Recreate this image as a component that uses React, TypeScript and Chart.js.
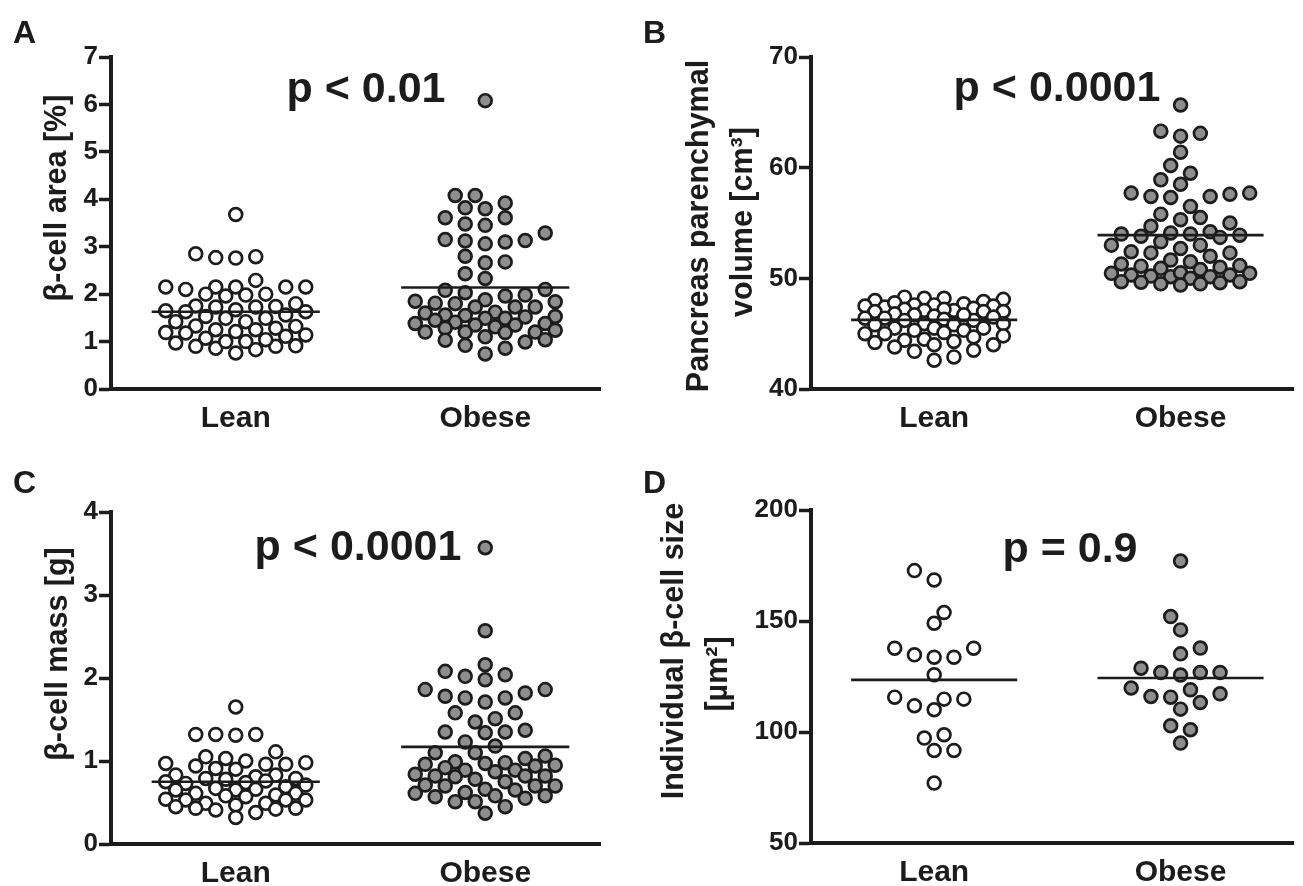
import React, { useEffect, useRef } from 'react';
import { Chart, registerables } from 'chart.js';

Chart.register(...registerables);

// ---------------- data ----------------
const categories = ['Lean', 'Obese'];

const areaLean = [3.68, 2.79, 2.76, 2.77, 2.85, 2.29, 2.15, 2.15, 2.15, 2.10, 2.15, 2.15, 2.00, 1.98, 1.96, 2.00, 1.80, 1.75, 1.74, 1.73, 1.73, 1.65, 1.63, 1.63, 1.67, 1.53, 1.49, 1.56, 1.49, 1.42, 1.42, 1.33, 1.32, 1.28, 1.25, 1.21, 1.25, 1.19, 1.14, 1.07, 1.18, 1.11, 0.97, 0.90, 0.86, 1.00, 1.00, 1.04, 0.90, 0.91, 0.76, 0.83];
const areaObese = [6.08, 4.08, 4.08, 3.92, 3.80, 3.82, 3.61, 3.61, 3.45, 3.48, 3.13, 3.10, 3.29, 3.06, 3.12, 3.15, 2.68, 2.80, 2.66, 2.43, 2.33, 2.10, 2.03, 1.96, 1.88, 1.98, 2.08, 1.85, 1.81, 1.73, 1.73, 1.73, 1.80, 1.84, 1.62, 1.56, 1.53, 1.49, 1.55, 1.60, 1.49, 1.52, 1.45, 1.38, 1.35, 1.31, 1.38, 1.41, 1.35, 1.28, 1.20, 1.19, 1.20, 1.24, 1.10, 1.03, 1.20, 0.99, 1.04, 0.92, 0.86, 0.74];
const areaMeans = [1.63, 2.14];
const areaTicks = [0, 1, 2, 3, 4, 5, 6, 7];

const volLean = [48.3, 48.2, 48.2, 48.1, 48.0, 47.9, 47.7, 47.6, 47.6, 47.5, 47.5, 47.4, 47.8, 47.3, 47.2, 47.1, 47.1, 47.0, 47.0, 47.0, 47.2, 46.8, 46.7, 46.6, 46.5, 46.4, 46.4, 46.3, 46.2, 46.2, 46.7, 45.9, 45.9, 45.8, 45.8, 45.5, 45.5, 45.5, 45.3, 45.3, 45.1, 45.0, 45.0, 44.8, 44.7, 44.5, 44.4, 44.3, 44.2, 44.0, 44.0, 43.8, 43.5, 43.4, 42.9, 42.6];
const volObese = [65.66, 63.1, 63.3, 62.85, 61.4, 60.2, 59.5, 58.9, 58.5, 57.7, 57.4, 57.3, 57.4, 57.6, 57.7, 56.5, 55.5, 55.3, 55.8, 55.0, 54.7, 54.2, 54.1, 54.0, 53.8, 53.3, 53.7, 53.9, 54.0, 53.0, 53.0, 52.7, 52.4, 52.3, 52.0, 52.3, 51.65, 51.5, 51.3, 51.1, 50.9, 50.8, 51.0, 51.15, 50.45, 50.3, 50.2, 50.15, 50.5, 50.3, 50.0, 50.15, 50.45, 49.7, 49.65, 49.5, 49.4, 49.5, 49.6, 49.7];
const volMeans = [46.25, 53.9];
const volTicks = [40, 50, 60, 70];

const massLean = [1.65, 1.32, 1.31, 1.32, 1.32, 1.11, 1.05, 1.03, 1.00, 0.96, 0.98, 0.97, 0.96, 0.94, 0.91, 0.90, 0.81, 0.83, 0.83, 0.79, 0.79, 0.78, 0.76, 0.74, 0.73, 0.75, 0.71, 0.69, 0.67, 0.65, 0.66, 0.65, 0.61, 0.61, 0.59, 0.58, 0.57, 0.54, 0.53, 0.53, 0.53, 0.49, 0.49, 0.45, 0.43, 0.41, 0.47, 0.42, 0.43, 0.38, 0.32];
const massObese = [3.57, 2.57, 2.16, 2.04, 1.98, 2.02, 2.08, 1.86, 1.78, 1.76, 1.71, 1.76, 1.82, 1.86, 1.58, 1.47, 1.51, 1.58, 1.37, 1.34, 1.35, 1.35, 1.23, 1.18, 1.10, 1.03, 0.99, 0.97, 0.98, 1.06, 1.10, 0.96, 0.94, 0.89, 0.87, 0.89, 0.92, 0.95, 0.82, 0.81, 0.75, 0.84, 0.78, 0.82, 0.82, 0.70, 0.70, 0.65, 0.62, 0.66, 0.70, 0.71, 0.58, 0.55, 0.51, 0.61, 0.58, 0.45, 0.51, 0.57, 0.37];
const massMeans = [0.75, 1.17];
const massTicks = [0, 1, 2, 3, 4];

const sizeLean = [172.7, 168.5, 153.8, 149.0, 134.75, 133.7, 137.75, 137.75, 133.7, 125.75, 115.7, 114.8, 110.0, 111.8, 114.8, 98.75, 91.7, 91.7, 97.25, 77.0];
const sizeObese = [177.0, 152.0, 146.0, 137.8, 135.2, 126.8, 126.8, 125.7, 126.8, 128.75, 119.8, 119.0, 116.0, 115.7, 117.2, 113.3, 110.3, 102.8, 101.0, 95.0];
const sizeMeans = [123.5, 124.3];
const sizeTicks = [50, 100, 150, 200];

// ---------------- styling / layout ----------------
const FONT = "'Liberation Sans', Arial, Helvetica, sans-serif";
const INK = '#1c1c1c';
const GREY = '#8e8e8e';
const X_MIN = 0.5;
const X_MAX = 2.46;
const MEAN_HALF = 0.337;

type Txt = { text: string; x: number; y: number; size: number; align?: CanvasTextAlign; rotate?: boolean };

interface Panel {
  left: number; top: number; width: number; height: number;
  plotLeft: number; plotTop: number; plotRight: number; plotBottom: number;
  yMin: number; yMax: number; yTicks: number[];
  lean: number[]; obese: number[]; means: number[];
  texts: Txt[];
}

const panels: Panel[] = [
  {
    left: 0, top: 0, width: 640, height: 450,
    plotLeft: 111, plotTop: 57, plotRight: 600, plotBottom: 389,
    yMin: 0, yMax: 7, yTicks: areaTicks,
    lean: areaLean, obese: areaObese, means: areaMeans,
    texts: [
      { text: 'A', x: 13, y: 43, size: 32 },
      { text: 'p < 0.01', x: 366, y: 102, size: 43, align: 'center' },
      { text: 'β-cell area [%]', x: 66, y: 198, size: 30.5, rotate: true },
    ],
  },
  {
    left: 640, top: 0, width: 663, height: 450,
    plotLeft: 171, plotTop: 57, plotRight: 660, plotBottom: 389,
    yMin: 40, yMax: 70, yTicks: volTicks,
    lean: volLean, obese: volObese, means: volMeans,
    texts: [
      { text: 'B', x: 643, y: 43, size: 32 },
      { text: 'p < 0.0001', x: 1057, y: 101, size: 43, align: 'center' },
      { text: 'Pancreas parenchymal', x: 708, y: 226, size: 30.5, rotate: true },
      { text: 'volume [cm³]', x: 752, y: 222, size: 30.5, rotate: true },
    ],
  },
  {
    left: 0, top: 450, width: 640, height: 436,
    plotLeft: 111, plotTop: 62, plotRight: 600, plotBottom: 394,
    yMin: 0, yMax: 4, yTicks: massTicks,
    lean: massLean, obese: massObese, means: massMeans,
    texts: [
      { text: 'C', x: 13, y: 493, size: 32 },
      { text: 'p < 0.0001', x: 358, y: 560, size: 43, align: 'center' },
      { text: 'β-cell mass [g]', x: 67, y: 654, size: 30.5, rotate: true },
    ],
  },
  {
    left: 640, top: 450, width: 663, height: 436,
    plotLeft: 171, plotTop: 60, plotRight: 660, plotBottom: 393,
    yMin: 50, yMax: 200, yTicks: sizeTicks,
    lean: sizeLean, obese: sizeObese, means: sizeMeans,
    texts: [
      { text: 'D', x: 643, y: 493, size: 32 },
      { text: 'p = 0.9', x: 1070, y: 562, size: 43, align: 'center' },
      { text: 'Individual β-cell size', x: 683, y: 651, size: 30.5, rotate: true },
      { text: '[µm²]', x: 727, y: 674, size: 30.5, rotate: true },
    ],
  },
];

// Beeswarm layout of the dots (pixel space), computed from the values,
// limited to a maximum number of columns each side (dots overlap when dense).
function swarmOffsets(values: number[], pxY: number, step: number, minDist: number, maxCol: number): number[] {
  const order = values.map((_, i) => i).sort((a, b) => values[a] - values[b]);
  const placed: { x: number; y: number }[] = [];
  const offsets = new Array(values.length).fill(0);
  let side = 1;
  for (const i of order) {
    const y = values[i] * pxY;
    let bestX = 0;
    let bestD = -1;
    let bestM = 0;
    let found = false;
    for (let k = 0; k <= maxCol * 2; k++) {
      const m = k === 0 ? 0 : Math.ceil(k / 2) * (k % 2 === 1 ? side : -side);
      const x = m * step;
      let dmin = Infinity;
      for (const p of placed) {
        const dx = p.x - x;
        const dy = p.y - y;
        const d = Math.sqrt(dx * dx + dy * dy);
        if (d < dmin) dmin = d;
      }
      if (dmin >= minDist) { bestX = x; bestM = m; found = true; break; }
      if (dmin > bestD + 0.5) { bestD = dmin; bestX = x; bestM = m; }
    }
    void found;
    placed.push({ x: bestX, y });
    offsets[i] = bestX;
    if (bestM !== 0) side = bestM > 0 ? -1 : 1;
  }
  return offsets;
}

const textPlugin = {
  id: 'panelText',
  afterDraw(chart: any, _args: any, opts: any) {
    const ctx: CanvasRenderingContext2D = chart.ctx;
    const items: Txt[] = opts.items || [];
    ctx.save();
    ctx.fillStyle = INK;
    ctx.textBaseline = 'alphabetic';
    for (const t of items) {
      ctx.font = `bold ${t.size}px ${FONT}`;
      const x = t.x - opts.offX;
      const y = t.y - opts.offY;
      if (t.rotate) {
        ctx.save();
        ctx.translate(x, y);
        ctx.rotate(-Math.PI / 2);
        ctx.textAlign = 'center';
        ctx.fillText(t.text, 0, 0);
        ctx.restore();
      } else {
        ctx.textAlign = t.align || 'left';
        ctx.fillText(t.text, x, y);
      }
    }
    ctx.restore();
  },
};

function PanelChart({ p }: { p: Panel }) {
  const ref = useRef<HTMLCanvasElement>(null);
  useEffect(() => {
    if (!ref.current) return;
    const pxX = (p.plotRight - p.plotLeft) / (X_MAX - X_MIN);
    const pxY = (p.plotBottom - p.plotTop) / (p.yMax - p.yMin);
    const makePts = (vals: number[], center: number) => {
      const offs = swarmOffsets(vals, pxY, 10, 14.5, 7);
      return vals.map((v, i) => ({ x: center + offs[i] / pxX, y: v }));
    };
    const meanLine = (center: number, m: number) => [
      { x: center - MEAN_HALF, y: m },
      { x: center + MEAN_HALF, y: m },
    ];
    const pointStyle = {
      pointRadius: 6.4,
      pointBorderWidth: 2.7,
      pointBorderColor: INK,
      borderColor: INK,
      borderWidth: 2.7,
      pointHoverRadius: 6.4,
    };
    const chart = new Chart(ref.current, {
      type: 'scatter',
      data: {
        datasets: [
          { data: meanLine(1, p.means[0]), showLine: true, borderColor: INK, borderWidth: 2.6, pointRadius: 0, order: 0 } as any,
          { data: meanLine(2, p.means[1]), showLine: true, borderColor: INK, borderWidth: 2.6, pointRadius: 0, order: 0 } as any,
          { data: makePts(p.lean, 1), backgroundColor: '#ffffff', pointBackgroundColor: '#ffffff', ...pointStyle, order: 1 } as any,
          { data: makePts(p.obese, 2), backgroundColor: GREY, pointBackgroundColor: GREY, ...pointStyle, order: 1 } as any,
        ],
      },
      options: {
        animation: false,
        responsive: false,
        events: [],
        layout: { padding: { top: p.plotTop, right: p.width - p.plotRight, left: 0, bottom: 0 } },
        plugins: {
          legend: { display: false },
          tooltip: { enabled: false },
          panelText: { items: p.texts, offX: p.left, offY: p.top },
        } as any,
        scales: {
          x: {
            type: 'linear',
            min: X_MIN,
            max: X_MAX,
            afterBuildTicks: (s: any) => { s.ticks = categories.map((_, i) => ({ value: i + 1 })); },
            afterFit: (s: any) => { s.height = p.height - p.plotBottom; },
            ticks: {
              callback: (v: any) => categories[Math.round(Number(v)) - 1] ?? '',
              font: { family: FONT, size: 30, weight: 'bold' },
              color: INK,
              padding: 12,
              autoSkip: false,
              maxRotation: 0,
            },
            grid: { display: true, drawOnChartArea: false, drawTicks: false },
            border: { display: true, width: 4, color: INK },
          },
          y: {
            type: 'linear',
            min: p.yMin,
            max: p.yMax,
            afterBuildTicks: (s: any) => { s.ticks = p.yTicks.map((v) => ({ value: v })); },
            afterFit: (s: any) => { s.width = p.plotLeft; },
            ticks: {
              font: { family: FONT, size: 26, weight: 'bold' },
              color: INK,
              padding: 1,
              autoSkip: false,
            },
            grid: { display: true, drawOnChartArea: false, drawTicks: true, tickLength: 12, tickWidth: 3.5, tickColor: INK },
            border: { display: true, width: 4, color: INK },
          },
        },
      } as any,
      plugins: [textPlugin as any],
    });
    return () => chart.destroy();
  }, [p]);
  return (
    <canvas
      ref={ref}
      width={p.width}
      height={p.height}
      style={{ position: 'absolute', left: p.left, top: p.top, width: p.width, height: p.height }}
    />
  );
}

export default function App() {
  return (
    <div style={{ position: 'absolute', left: 0, top: 0, width: 1303, height: 886, background: '#ffffff', overflow: 'hidden' }}>
      {panels.map((p, i) => (
        <PanelChart key={i} p={p} />
      ))}
    </div>
  );
}
